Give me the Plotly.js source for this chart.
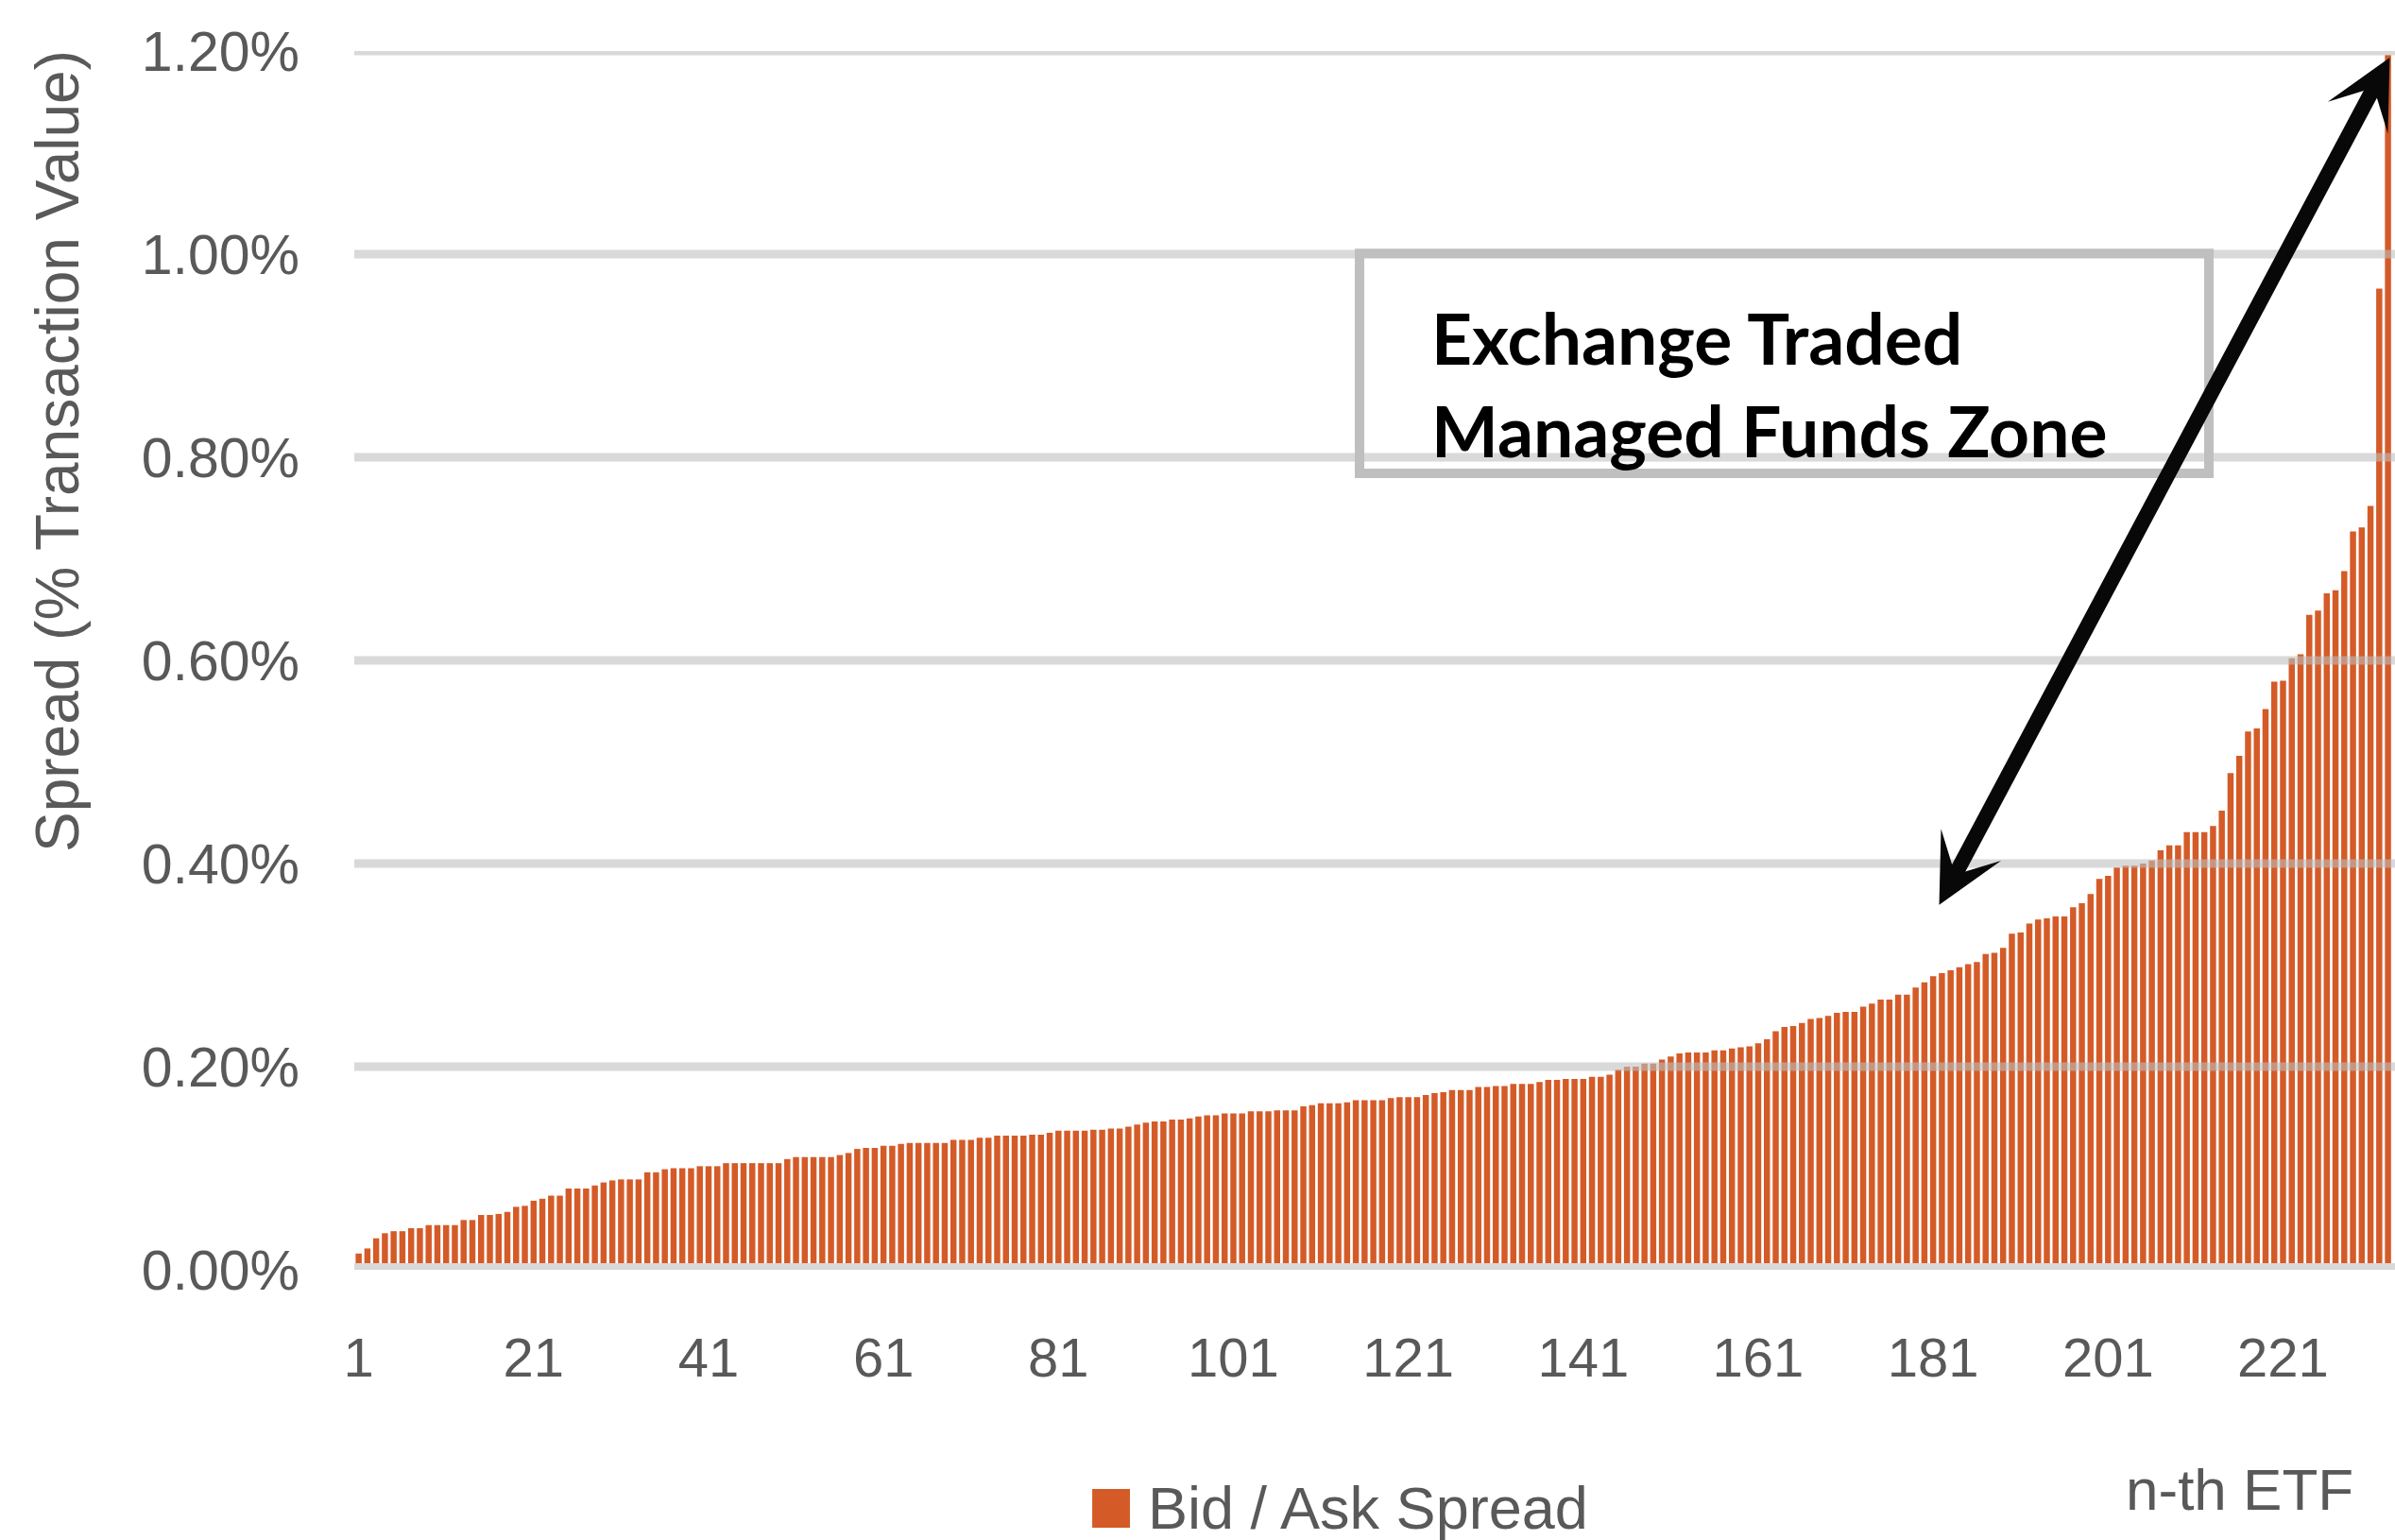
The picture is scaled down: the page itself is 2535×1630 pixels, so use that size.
<!DOCTYPE html>
<html><head><meta charset="utf-8">
<script src="https://cdn.plot.ly/plotly-3.0.1.min.js"></script>
<style>html,body{margin:0;padding:0;background:#fff;overflow:hidden}#chart{width:2535px;height:1630px}</style>
</head><body><div id="chart"></div>
<script>
// Bid / ask spread (% of transaction value) for the n-th ETF, sorted ascending
const bidAskSpreadPct = [
  0.016,0.021,0.031,0.036,0.038,0.038,0.041,0.041,0.044,0.044,
  0.044,0.044,0.049,0.049,0.054,0.054,0.055,0.057,0.062,0.063,
  0.068,0.070,0.073,0.073,0.080,0.080,0.080,0.083,0.086,0.088,
  0.089,0.089,0.089,0.096,0.096,0.099,0.100,0.100,0.100,0.102,
  0.102,0.102,0.105,0.105,0.105,0.105,0.105,0.105,0.105,0.109,
  0.111,0.111,0.111,0.111,0.111,0.113,0.115,0.119,0.120,0.120,
  0.122,0.122,0.124,0.125,0.125,0.125,0.125,0.125,0.128,0.128,
  0.128,0.130,0.130,0.132,0.132,0.132,0.132,0.133,0.133,0.135,
  0.137,0.137,0.137,0.137,0.138,0.138,0.139,0.139,0.141,0.143,
  0.145,0.146,0.146,0.148,0.148,0.149,0.151,0.152,0.152,0.154,
  0.154,0.154,0.156,0.156,0.156,0.157,0.157,0.157,0.161,0.162,
  0.164,0.164,0.164,0.165,0.167,0.167,0.167,0.167,0.169,0.170,
  0.170,0.170,0.172,0.174,0.175,0.177,0.177,0.177,0.180,0.180,
  0.181,0.181,0.183,0.183,0.183,0.185,0.187,0.187,0.188,0.188,
  0.188,0.190,0.190,0.192,0.197,0.200,0.200,0.203,0.203,0.207,
  0.210,0.213,0.214,0.214,0.214,0.216,0.216,0.218,0.219,0.220,
  0.223,0.227,0.235,0.239,0.240,0.243,0.247,0.248,0.250,0.253,
  0.254,0.254,0.259,0.262,0.266,0.266,0.271,0.271,0.278,0.283,
  0.289,0.292,0.295,0.298,0.301,0.303,0.311,0.312,0.317,0.331,
  0.332,0.341,0.345,0.346,0.348,0.348,0.357,0.361,0.370,0.385,
  0.388,0.396,0.398,0.398,0.400,0.403,0.413,0.418,0.418,0.431,
  0.431,0.431,0.437,0.452,0.489,0.506,0.530,0.533,0.552,0.579,
  0.580,0.602,0.606,0.645,0.649,0.666,0.669,0.688,0.727,0.731,
  0.752,0.966,1.196
];
const etfRank = bidAskSpreadPct.map((v, i) => i + 1);

const xTickVals = [1, 21, 41, 61, 81, 101, 121, 141, 161, 181, 201, 221];
const xTickText = ['1', '21', '41', '61', '81', '101', '121', '141', '161', '181', '201', '221'];
const yTickVals = [0, 0.2, 0.4, 0.6, 0.8, 1.0, 1.2];
const yTickText = ['0.00%', '0.20%', '0.40%', '0.60%', '0.80%', '1.00%', '1.20%'];

const seriesName = 'Bid / Ask Spread';
const yAxisTitle = 'Spread (% Transaction Value)';
const xAxisTitle = 'n-th ETF';
const zoneLabel = 'Exchange Traded<br>Managed Funds Zone';

const barColor = '#d45b28';
const textGray = '#595959';
const baseFont = 'Liberation Sans, Arial, sans-serif';

const gridShapes = yTickVals.map(v => ({
  type: 'line', xref: 'paper', x0: 0, x1: 1, yref: 'y', y0: v, y1: v,
  line: v === 0 ? {color: '#d9d9d9', width: 14} : {color: 'rgba(190,190,190,0.585)', width: 9},
  layer: 'above'
}));

const trace = {
  type: 'bar', x: etfRank, y: bidAskSpreadPct, name: seriesName,
  marker: {color: barColor, line: {width: 0}},
  showlegend: false, hoverinfo: 'x+y'
};

const layout = {
  width: 2535, height: 1630,
  margin: {l: 375, r: 0, t: 54, b: 286, autoexpand: false},
  paper_bgcolor: '#ffffff', plot_bgcolor: '#ffffff',
  bargap: 0.3,
  showlegend: false,
  font: {family: baseFont, color: textGray},
  xaxis: {
    range: [0.5, 233.8], tickmode: 'array', tickvals: xTickVals, ticktext: xTickText,
    showgrid: false, zeroline: false, showline: false, ticks: '',
    tickfont: {family: baseFont, size: 58, color: textGray},
    ticklabelstandoff: 54, fixedrange: true
  },
  yaxis: {
    range: [0, 1.2], tickmode: 'array', tickvals: yTickVals, ticktext: yTickText,
    showgrid: false, zeroline: false, showline: false, ticks: '',
    tickfont: {family: baseFont, size: 59, color: textGray},
    ticklabelstandoff: 57, fixedrange: true
  },
  shapes: gridShapes.concat([
    {type: 'rect', xref: 'paper', yref: 'paper', x0: 0.4926, x1: 0.9088, y0: 0.6535, y1: 0.834,
     line: {color: '#bfbfbf', width: 10}, fillcolor: 'rgba(0,0,0,0)', layer: 'above'},
    {type: 'rect', xref: 'paper', yref: 'paper', x0: 0.3616, x1: 0.3801, y0: -0.2116, y1: -0.1798,
     line: {width: 0}, fillcolor: barColor, layer: 'above'}
  ]),
  annotations: [
    {text: yAxisTitle, xref: 'paper', yref: 'paper', x: -0.1454, y: 0.672, textangle: -90,
     showarrow: false, xanchor: 'center', yanchor: 'middle',
     font: {family: baseFont, size: 64, color: textGray}},
    {text: seriesName, xref: 'paper', yref: 'paper', x: 0.388, y: -0.1953,
     showarrow: false, xanchor: 'left', yanchor: 'middle',
     font: {family: baseFont, size: 63, color: textGray}},
    {text: xAxisTitle, xref: 'paper', yref: 'paper', x: 0.924, y: -0.1806,
     showarrow: false, xanchor: 'center', yanchor: 'middle',
     font: {family: baseFont, size: 62, color: textGray}},
    {text: zoneLabel, xref: 'paper', yref: 'paper', x: 0.5269, y: 0.727,
     showarrow: false, xanchor: 'left', yanchor: 'middle', align: 'left',
     font: {family: 'Lato, sans-serif', size: 75, color: '#000000', weight: 'bold'}},
    {text: '', xref: 'x', yref: 'y', x: 233.2, y: 1.1935, axref: 'x', ayref: 'y', ax: 181.6, ay: 0.358,
     showarrow: true, arrowside: 'end+start', arrowhead: 3, startarrowhead: 3,
     arrowsize: 0.75, startarrowsize: 0.75, arrowwidth: 16, arrowcolor: '#080808'}
  ]
};

Plotly.newPlot('chart', [trace], layout, {staticPlot: true, displayModeBar: false});
</script>
</body></html>
